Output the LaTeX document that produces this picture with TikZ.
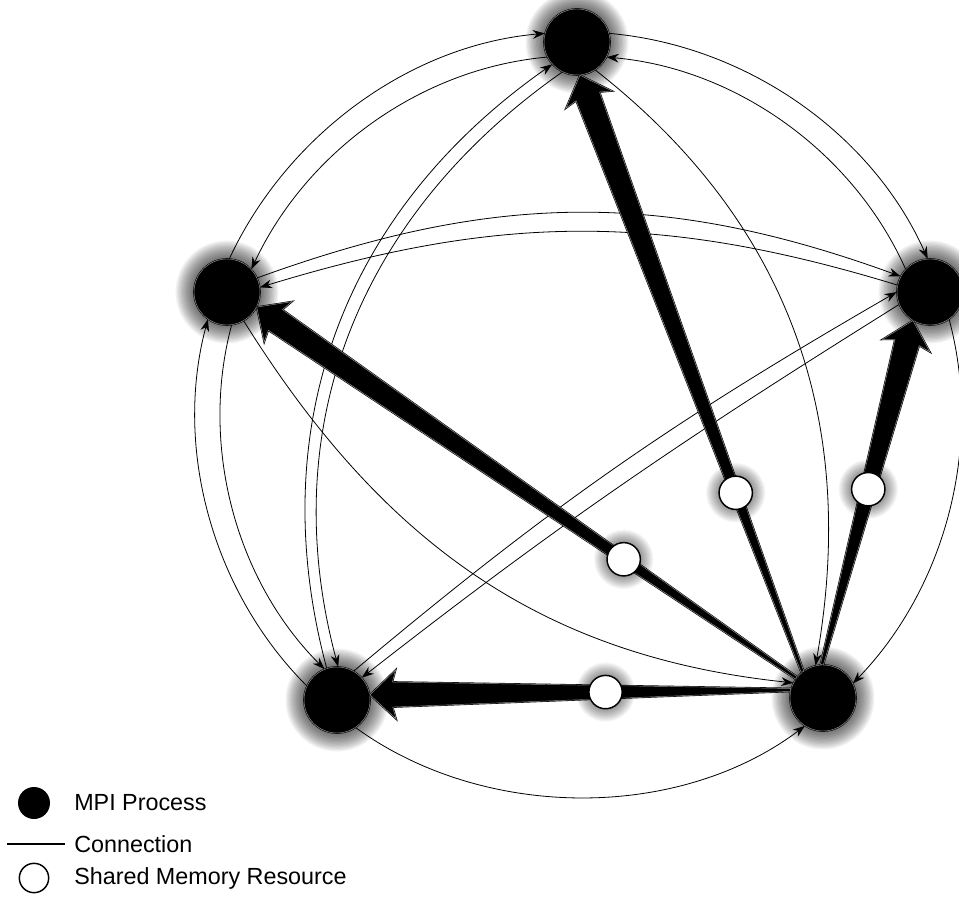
\documentclass[tikz,border=0pt]{standalone}
\usepackage{fontspec}
\newfontfamily\legfont{Liberation Sans}
\usepackage{tikz}
\usetikzlibrary{arrows.meta, calc, shadows}
\definecolor{ringgray}{RGB}{150,150,150}
\tikzset{
  glowstep/.style={general shadow={fill=black, fill opacity=0.05, shadow scale=#1}},
  smallglowstep/.style={general shadow={fill=black, fill opacity=0.035, shadow scale=#1}},
  proc/.style={circle, fill=black, draw=black, double=ringgray, double distance=0.35pt,
    line width=0.45pt, minimum size=49.5pt, inner sep=0pt,
    glowstep/.list={1.04,1.08,...,1.6}},
  shm/.style={circle, fill=white, draw=black, line width=1.1pt, minimum size=25pt,
    inner sep=0pt, smallglowstep/.list={1.06,1.12,...,1.8}},
  legproc/.style={circle, fill=black, minimum size=24pt, inner sep=0pt},
  legshm/.style={circle, draw=black, line width=1.1pt, minimum size=22pt, inner sep=0pt},
  conn/.style={-{Stealth[length=9pt, width=6.5pt]}, line width=0.6pt, color=black},
  ring/.style={conn, looseness=0.9},
  fatline/.style={fill=black, draw=black, double=ringgray, double distance=0.35pt,
    line width=0.45pt, line join=miter},
  legtext/.style={anchor=west, inner sep=0pt, font=\legfont\fontsize{17.5}{20}\selectfont}
}
% tapered arrow from #1 (tail) to #2 (tip)
\newcommand{\fatarrow}[2]{%
  \path ($(#2)!19.5pt!(#1)$) coordinate (hb) ($(#2)!17pt!(#1)$) coordinate (nb);
  \filldraw[fatline] ($(#1)!1.1pt!90:(#2)$) -- ($(nb)!9.4pt!-90:(#1)$)
    -- ($(hb)!18.4pt!-90:(#1)$) -- (#2) -- ($(hb)!18.4pt!90:(#1)$)
    -- ($(nb)!9.4pt!90:(#1)$) -- ($(#1)!1.1pt!-90:(#2)$) -- cycle;
}

\begin{document}
\begin{tikzpicture}[x=0.75pt, y=0.75pt]
  \fill[white] (0,0) rectangle (959,897);
  \useasboundingbox (0,0) rectangle (959,897);

  % Nodes
  \node[proc] (pT) at (577,855) {};
  \node[proc] (pL) at (227,605) {};
  \node[proc] (pR) at (930,605) {};
  \node[proc] (pBL) at (337,197) {};
  \node[proc] (pBR) at (823,199) {};

  % Outer ring
  \draw[ring] (pL.86) to[out=65, in=185] (pT.165);
  \draw[ring] (pT.15) to[out=-5, in=114] (pR.94);
  \draw[ring] (pR.-55) to[out=-75, in=46] (pBR.26);
  \draw[ring] (pBL.304) to[out=324, in=217] (pBR.237);
  \draw[ring] (pBL.155) to[out=135, in=255] (pL.235);

  % Inner ring
  \draw[ring] (pT.207) to[out=185, in=65] (pL.43);
  \draw[ring] (pR.137) to[out=114, in=-5] (pT.-27);
  \draw[ring] (pL.278) to[out=255, in=135] (pBL.112);

  % Cross connections
  \draw[conn] (pBL.108) to[out=105, in=215] (pT.222);
  \draw[conn] (pT.244) to[out=215, in=105] (pBL.88);
  \draw[conn] (pT.-57) to[out=-38, in=80] (pBR.103);
  \draw[conn] (pL.-60) to[out=-58, in=174] (pBR.153);
  \draw[conn] (pL.25) to[out=20, in=160] (pR.152);
  \draw[conn] (pR.168) to[out=163, in=17] (pL.8);
  \draw[conn] (pBL.60) to[out=40, in=210] (pR.180);
  \draw[conn] (pR.202) to[out=212, in=38] (pBL.42);

  % Shared memory paths
  \fatarrow{pBR.128}{pT.-85}
  \fatarrow{pBR.92}{pR.239}
  \fatarrow{pBR.143}{pL.-27}
  \fatarrow{pBR.166}{pBL.9}

  \node[shm] (m1) at ($(pBR.128)!0.30!(pT.-85)$) {};
  \node[shm] (m2) at ($(pBR.92)!0.51!(pR.239)$) {};
  \node[shm] (m3) at ($(pBR.143)!0.32!(pL.-27)$) {};
  \node[shm] (m4) at ($(pBR.166)!0.44!(pBL.9)$) {};

  % Legend
  \node[legproc] (lgproc) at (34,94) {};
  \node[legtext] (lgproctxt) at (74,94) {MPI Process};
  \coordinate (lgA) at (7,53);
  \coordinate (lgB) at (65,53);
  \draw[line width=0.8pt] (lgA) -- (lgB);
  \node[legtext] (lgconntxt) at (74,53) {Connection};
  \node[legshm] (lgshm) at (34,19) {};
  \node[legtext] (lgshmtxt) at (74,19) {Shared Memory Resource};
\end{tikzpicture}
\end{document}
